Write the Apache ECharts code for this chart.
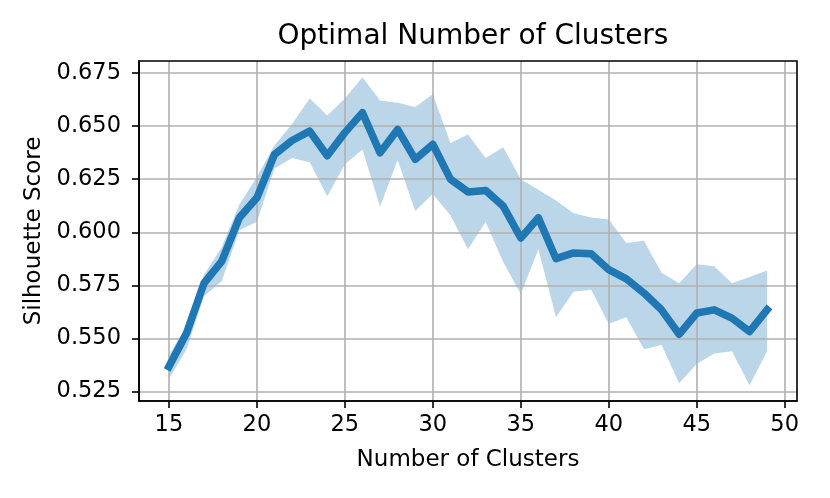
<!DOCTYPE html>
<html>
<head>
<meta charset="utf-8">
<script src="https://cdn.jsdelivr.net/npm/echarts@6/dist/echarts.min.js"></script>
<style>html,body{margin:0;padding:0;background:#fff;}#main{width:830px;height:498px;}</style>
</head>
<body>
<div id="main"></div>
<script>
const clusters = [15,16,17,18,19,20,21,22,23,24,25,26,27,28,29,30,31,32,33,34,35,36,37,38,39,40,41,42,43,44,45,46,47,48,49];
const meanScore = [0.5368,0.5525,0.5761,0.5863,0.6068,0.6162,0.6366,0.6432,0.6476,0.6360,0.6469,0.6563,0.6374,0.6484,0.6343,0.6414,0.6250,0.6190,0.6197,0.6123,0.5973,0.6068,0.5876,0.5903,0.5899,0.5824,0.5781,0.5714,0.5635,0.5520,0.5620,0.5635,0.5596,0.5533,0.5635];
const upperBand = [0.542,0.556,0.580,0.593,0.613,0.626,0.641,0.651,0.663,0.655,0.663,0.673,0.662,0.661,0.659,0.665,0.642,0.646,0.635,0.640,0.625,0.620,0.615,0.609,0.607,0.606,0.595,0.596,0.581,0.576,0.585,0.584,0.576,0.579,0.582];
const lowerBand = [0.531,0.545,0.570,0.577,0.601,0.605,0.630,0.635,0.633,0.617,0.632,0.639,0.612,0.634,0.610,0.618,0.608,0.592,0.605,0.586,0.571,0.592,0.560,0.572,0.573,0.557,0.560,0.545,0.547,0.529,0.538,0.543,0.544,0.528,0.544];
const xTicks = [15,20,25,30,35,40,45,50];
const yTicks = [0.525,0.550,0.575,0.600,0.625,0.650,0.675];

const FONT = 'DejaVu Sans';
const chart = echarts.init(document.getElementById('main'), null, {renderer:'canvas'});
const bandData = clusters.map((c,i)=>[c, lowerBand[i], upperBand[i]]);
const lineData = clusters.map((c,i)=>[c, meanScore[i]]);

chart.setOption({
  animation:false,
  backgroundColor:'#fff',
  title:{text:'Optimal Number of Clusters', left:468, textAlign:'center', top:18,
    textStyle:{fontFamily:FONT, fontSize:28, fontWeight:'normal', color:'#000'}},
  grid:{left:139, right:33, top:61, bottom:97, show:true, borderColor:'#000', borderWidth:1.6, backgroundColor:'transparent', z:5},
  xAxis:{type:'value', min:13.3, max:50.7, z:2,
    name:'Number of Clusters', nameLocation:'middle', nameGap:48,
    nameTextStyle:{fontFamily:FONT, fontSize:23, color:'#000'},
    axisLine:{show:true, onZero:false, lineStyle:{color:'#000', width:1.6}},
    axisTick:{show:true, customValues:xTicks, length:7, lineStyle:{color:'#000', width:1.6}},
    axisLabel:{customValues:xTicks, margin:13, fontFamily:FONT, fontSize:22.5, color:'#000'},
    splitLine:{show:true, lineStyle:{color:'#b0b0b0', width:1.6}}},
  yAxis:{type:'value', min:0.5206, max:0.6806, z:2,
    name:'Silhouette Score', nameLocation:'middle', nameGap:91, nameRotate:90,
    nameTextStyle:{fontFamily:FONT, fontSize:23, color:'#000'},
    axisLine:{show:true, onZero:false, lineStyle:{color:'#000', width:1.6}},
    axisTick:{show:true, customValues:yTicks, length:7, lineStyle:{color:'#000', width:1.6}},
    axisLabel:{customValues:yTicks, margin:18, fontFamily:FONT, fontSize:22.5, color:'#000',
      formatter:v=>v.toFixed(3)},
    splitLine:{show:true, lineStyle:{color:'#b0b0b0', width:1.6}}},
  series:[
    {type:'custom', z:1, silent:true, data:bandData, encode:{x:0, y:[1,2]},
      renderItem:function(params, api){
        if(params.dataIndex!==0) return null;
        const pts=[];
        for(let i=0;i<bandData.length;i++) pts.push(api.coord([bandData[i][0], bandData[i][2]]));
        for(let i=bandData.length-1;i>=0;i--) pts.push(api.coord([bandData[i][0], bandData[i][1]]));
        return {type:'polygon', shape:{points:pts}, style:{fill:'rgba(31,119,180,0.3)'}};
      }},
    {type:'line', z:3, data:lineData, symbol:'none', silent:true,
      lineStyle:{color:'#1f77b4', width:7.5, join:'round', cap:'square'}}
  ]
});
</script>
</body>
</html>
